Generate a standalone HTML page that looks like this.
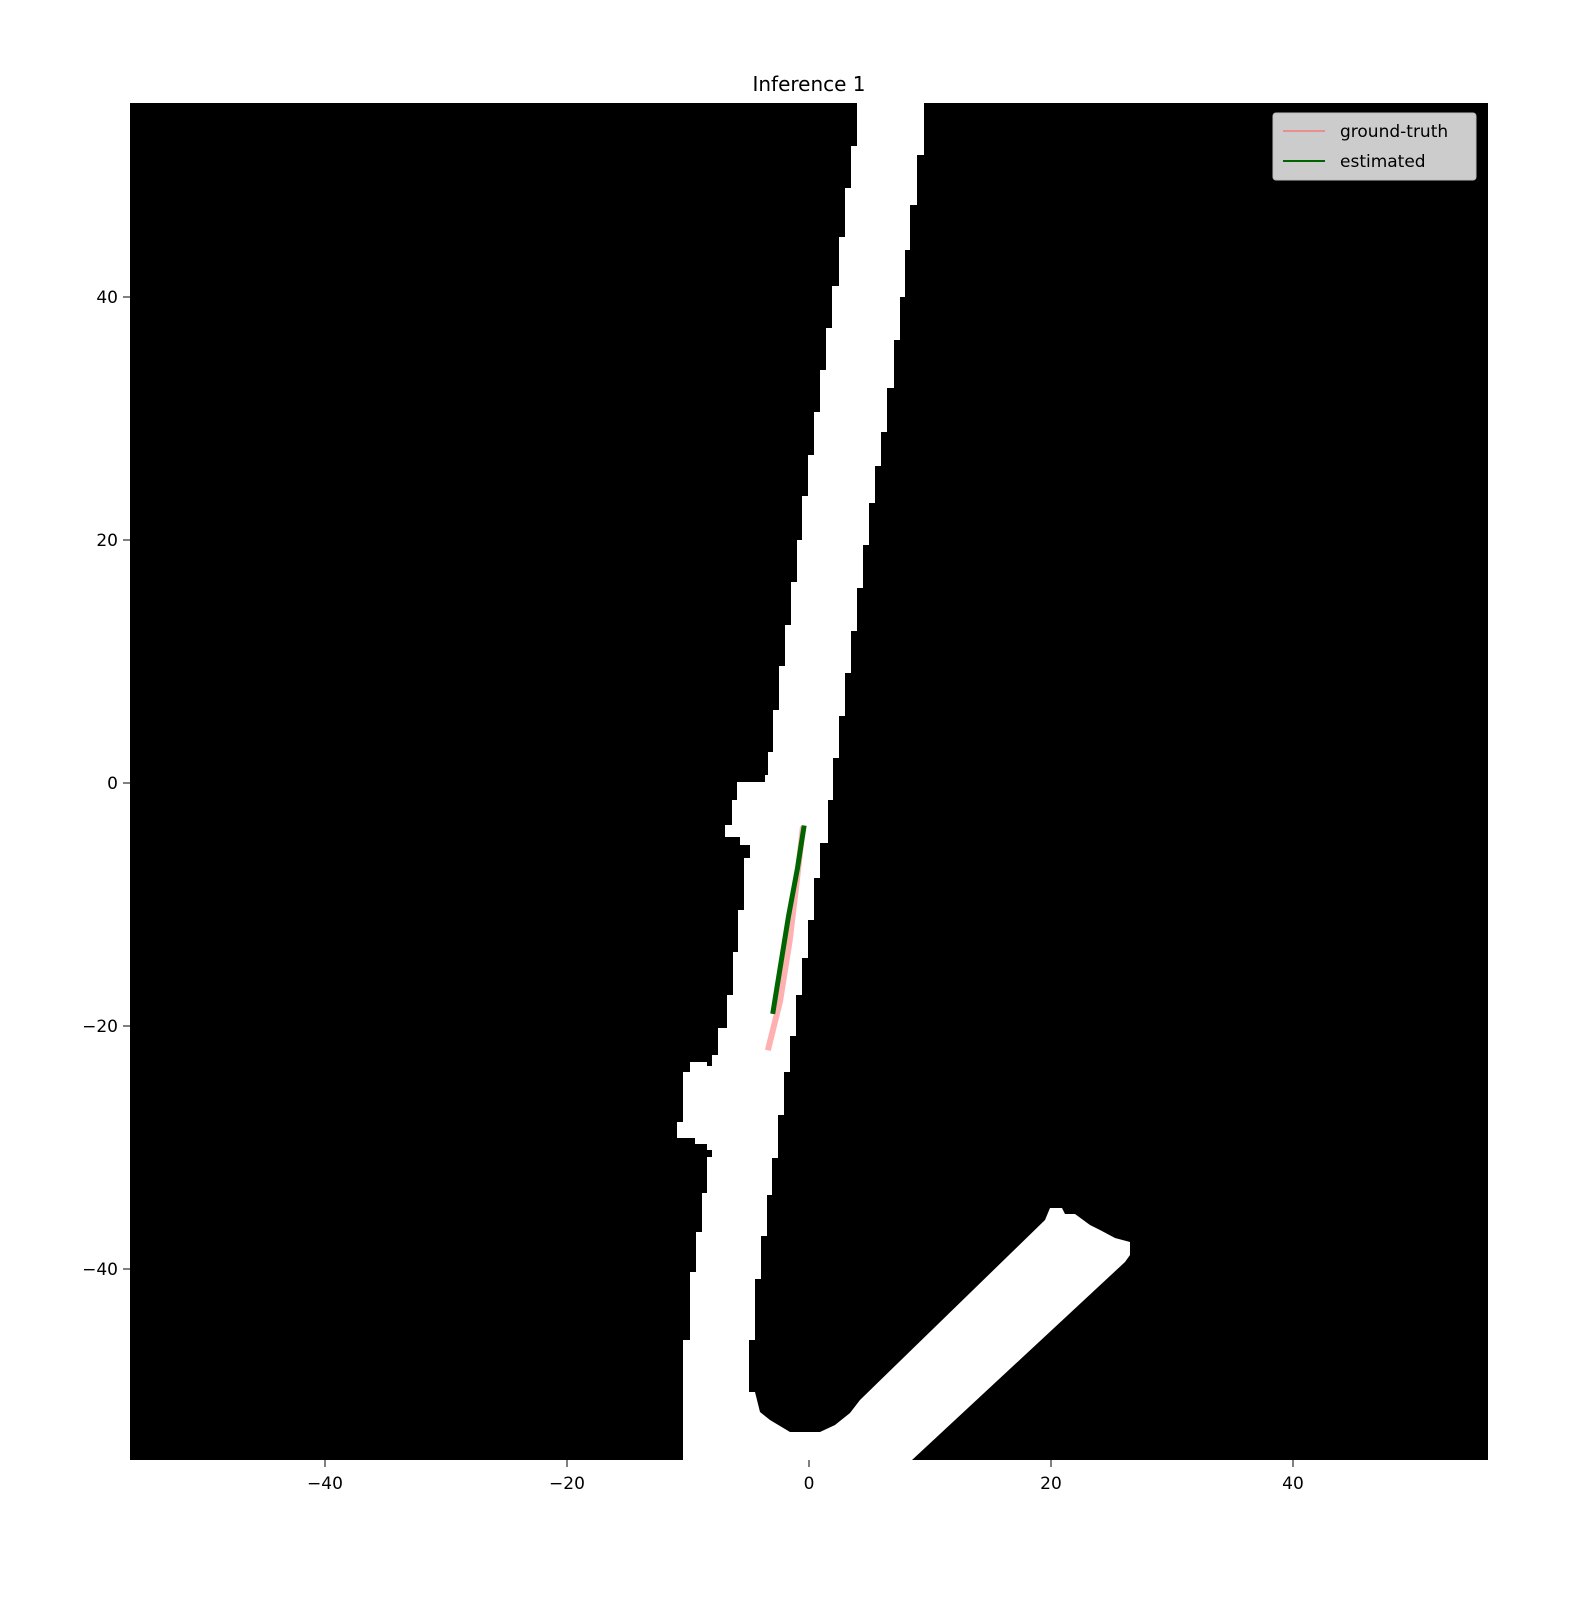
<!DOCTYPE html>
<html><head><meta charset="utf-8"><style>
body{margin:0;background:#fff}
svg text{font-family:"DejaVu Sans","Liberation Sans",sans-serif;fill:#000}
</style></head><body>
<svg id="chart" width="1594" height="1602" viewBox="0 0 1594 1602" xmlns="http://www.w3.org/2000/svg">
<rect width="1594" height="1602" fill="#fff"/>
<text x="809" y="91" font-size="20" text-anchor="middle">Inference 1</text>
<rect x="130" y="103" width="1358" height="1357" fill="#000"/>
<polygon fill="#fff" points="
857,103 930,103 924,103 924,155 917,155 917,205 910,205 910,250 905,250 905,297 900,297 900,340 894,340 894,388 887,388 887,432 881,432 881,466 875,466 875,503 869,503 869,545 863,545 863,588 857,588 857,631 851,631 851,673 845,673 845,716 839,716 839,758 833,758 833,800 828,800 828,843 820,843 820,878 814,878 814,920 808,920 808,958 802,958 802,995 796,995 796,1036 790,1036 790,1072 784,1072 784,1115 778,1115 778,1158 772,1158 772,1195 767,1195 767,1236 761,1236 761,1279 755,1279 755,1340 749,1340 749,1392 755,1392 760,1412 770,1420 790,1432 820,1432 835,1425 850,1413 860,1400 1045,1220 1050,1208 1062,1208 1065,1214 1075,1214 1090,1225 1100,1230 1115,1238 1130,1242 1130,1255 1125,1262 912,1460
683,1460 683,1340 690,1340 690,1272 696,1272 696,1232 702,1232 702,1193 707,1193 707,1157 712,1157 712,1150 707,1150 707,1144 695,1144 695,1138 677,1138 677,1122 683,1122 683,1072 690,1072 690,1062 707,1062 707,1066 712,1066 712,1055 718,1055 718,1028 727,1028 727,995 733,995 733,952 738,952 738,910 744,910 744,858 750,858 750,845 740,845 740,837 725,837 725,825 732,825 732,800 737,800 737,782 765,782 765,775 768,775 768,752 773,752 773,710 779,710 779,666 785,666 785,625 791,625 791,582 797,582 797,540 802,540 802,496 808,496 808,455 814,455 814,412 820,412 820,370 826,370 826,328 832,328 832,286 839,286 839,237 845,237 845,188 851,188 851,146 857,146"/>
<g id="ticks"></g>
<g id="series"></g>
<g>
<rect x="1273" y="113" width="203" height="67" rx="3" fill="#cccccc" stroke="#bbb"/>
<line x1="1283" y1="131" x2="1325" y2="131" stroke="#f08080" stroke-opacity="0.8" stroke-width="2"/>
<text x="1340" y="137" font-size="17">ground-truth</text>
<line x1="1283" y1="161" x2="1325" y2="161" stroke="#006400" stroke-width="2"/>
<text x="1340" y="167" font-size="17">estimated</text>
</g>
</svg>
<script>
const xTicks=[-40,-20,0,20,40];
const yTicks=[-40,-20,0,20,40];
const gtX=[-0.5,-1.0,-1.6,-2.4,-3.4];
const gtY=[-3.6,-8,-13,-18,-22];
const estX=[-0.4,-0.95,-1.7,-2.35,-3.0];
const estY=[-3.5,-7,-11,-15,-19];
const X=v=>809+v*12.1, Y=v=>783-v*12.15;
const NS="http://www.w3.org/2000/svg";
const tg=document.getElementById('ticks');
function mk(t,a,p){const e=document.createElementNS(NS,t);for(const k in a)e.setAttribute(k,a[k]);p.appendChild(e);return e;}
xTicks.forEach(v=>{
 const l=mk('line',{x1:X(v),x2:X(v),y1:1460,y2:1467,stroke:'#000'},tg);
 
 
 const t=mk('text',{x:X(v),y:1489,'font-size':17,'text-anchor':'middle'},tg);
 t.textContent=v<0?'\u2212'+(-v):v;
 
 
});
yTicks.forEach(v=>{
 const l=mk('line',{x1:123,x2:130,y1:Y(v),y2:Y(v),stroke:'#000'},tg);
 
 
 const t=mk('text',{x:118,y:Y(v)+6,'font-size':17,'text-anchor':'end'},tg);
 t.textContent=v<0?'\u2212'+(-v):v;
 
 
});
const sg=document.getElementById('series');
const pts=(xs,ys)=>xs.map((x,i)=>X(x)+','+Y(ys[i])).join(' ');
const gt=mk('polyline',{points:pts(gtX,gtY),fill:'none',stroke:'#ffb0b0','stroke-width':6},sg);


const es=mk('polyline',{points:pts(estX,estY),fill:'none',stroke:'#006400','stroke-width':5},sg);


</script>
</body></html>
